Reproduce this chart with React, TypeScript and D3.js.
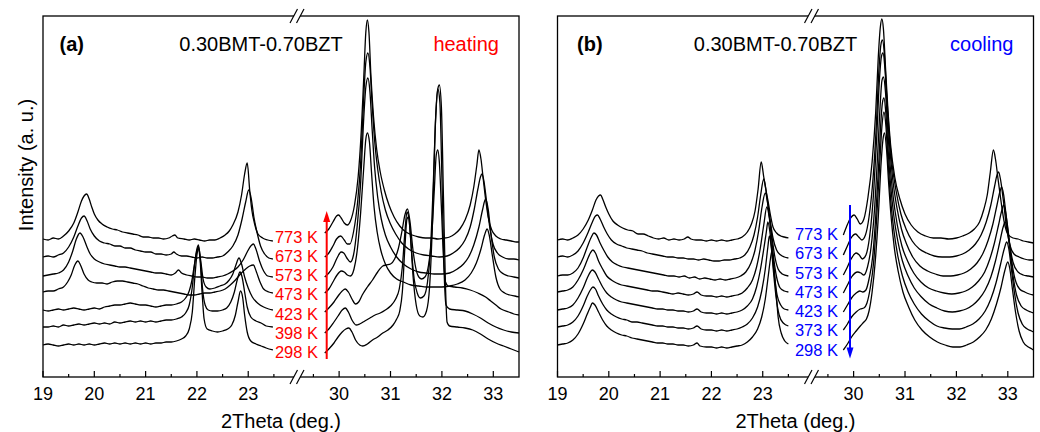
import React, { useEffect, useRef } from "react";
import * as d3 from "d3";

type Pt = [number, number];

// heating (a), window 19-23.5 deg
const h773L: Pt[] = [[19.0,138],[19.1,137],[19.2,139],[19.3,138],[19.4,141],[19.5,146],[19.6,154],[19.68,165],[19.75,176],[19.8,181],[19.85,183],[19.9,178],[19.95,170],[20.0,163],[20.07,157],[20.15,153],[20.25,150],[20.35,148],[20.45,147],[20.55,145],[20.65,144],[20.75,143],[20.85,142],[20.95,140],[21.05,140],[21.15,139],[21.25,139],[21.35,138],[21.45,139],[21.52,141],[21.57,142],[21.63,139],[21.75,138],[21.85,137],[21.95,138],[22.05,137],[22.15,136],[22.25,137],[22.35,137],[22.45,139],[22.55,142],[22.63,146],[22.7,152],[22.8,165],[22.87,182],[22.93,203],[22.98,214],[23.03,186],[23.07,167],[23.12,154],[23.19,143],[23.28,139],[23.38,137],[23.48,136]];
const h673L: Pt[] = [[19.0,120],[19.1,121],[19.2,120],[19.3,122],[19.4,124],[19.5,130],[19.6,140],[19.68,151],[19.75,159],[19.8,161],[19.86,156],[19.92,148],[20.0,141],[20.1,136],[20.2,134],[20.3,133],[20.4,131],[20.5,131],[20.6,129],[20.7,129],[20.8,127],[20.9,126],[21.0,125],[21.1,125],[21.2,123],[21.3,123],[21.4,122],[21.5,123],[21.55,125],[21.6,123],[21.7,121],[21.8,121],[21.9,120],[22.0,119],[22.1,120],[22.2,119],[22.3,119],[22.4,120],[22.5,121],[22.6,125],[22.7,131],[22.8,142],[22.88,158],[22.95,175],[23.01,187],[23.06,178],[23.11,160],[23.17,145],[23.24,131],[23.32,123],[23.4,119],[23.48,118]];
const h573L: Pt[] = [[19.0,101],[19.1,102],[19.2,103],[19.3,104],[19.4,107],[19.5,115],[19.58,126],[19.65,138],[19.72,144],[19.78,140],[19.85,131],[19.92,123],[20.0,118],[20.1,115],[20.2,113],[20.3,112],[20.4,111],[20.5,110],[20.6,110],[20.7,109],[20.8,108],[20.9,107],[21.0,106],[21.1,105],[21.2,104],[21.3,104],[21.4,103],[21.5,102],[21.58,104],[21.64,107],[21.7,104],[21.8,102],[21.9,101],[22.0,100],[22.1,100],[22.2,99],[22.3,99],[22.4,100],[22.5,101],[22.6,103],[22.7,106],[22.8,110],[22.9,117],[22.98,125],[23.05,131],[23.1,133],[23.15,128],[23.22,116],[23.3,106],[23.38,101],[23.48,100]];
const h473L: Pt[] = [[19.0,85],[19.1,86],[19.2,86],[19.3,88],[19.4,90],[19.48,95],[19.55,102],[19.62,112],[19.68,116],[19.73,112],[19.8,103],[19.88,97],[19.95,95],[20.05,94],[20.15,94],[20.25,93],[20.35,95],[20.45,96],[20.55,96],[20.65,95],[20.75,94],[20.85,93],[20.95,91],[21.05,89],[21.15,88],[21.25,87],[21.35,87],[21.45,86],[21.55,85],[21.65,84],[21.75,83],[21.85,82],[21.95,82],[22.05,83],[22.15,84],[22.25,84],[22.35,85],[22.45,86],[22.55,88],[22.65,92],[22.75,97],[22.85,103],[22.95,108],[23.03,111],[23.1,112],[23.16,105],[23.23,95],[23.3,88],[23.4,85],[23.48,84]];
const h423L: Pt[] = [[19.0,67],[19.1,66],[19.2,67],[19.3,68],[19.4,67],[19.5,68],[19.6,69],[19.7,68],[19.8,67],[19.9,68],[20.0,69],[20.1,68],[20.2,70],[20.3,71],[20.4,72],[20.5,72],[20.6,73],[20.7,74],[20.8,73],[20.9,72],[21.0,72],[21.1,71],[21.2,70],[21.3,71],[21.4,72],[21.5,72],[21.6,73],[21.7,75],[21.78,79],[21.85,86],[21.9,96],[21.95,112],[22.0,126],[22.03,130],[22.07,118],[22.12,98],[22.18,90],[22.25,88],[22.35,89],[22.45,91],[22.55,93],[22.63,97],[22.7,103],[22.76,112],[22.82,119],[22.87,113],[22.93,100],[23.0,89],[23.08,80],[23.18,74],[23.3,70],[23.4,68],[23.48,67]];
const h398L: Pt[] = [[19.0,50],[19.1,50],[19.2,51],[19.3,50],[19.4,52],[19.5,51],[19.6,52],[19.7,53],[19.8,52],[19.9,53],[20.0,54],[20.1,53],[20.2,54],[20.3,53],[20.4,55],[20.5,54],[20.6,55],[20.7,56],[20.8,55],[20.9,56],[21.0,55],[21.1,56],[21.2,55],[21.3,56],[21.4,57],[21.5,57],[21.6,58],[21.7,60],[21.78,64],[21.85,72],[21.91,90],[21.96,115],[22.0,128],[22.03,132],[22.07,115],[22.11,88],[22.16,72],[22.22,67],[22.3,66],[22.4,66],[22.5,67],[22.58,69],[22.66,75],[22.73,85],[22.79,98],[22.84,105],[22.88,100],[22.93,85],[22.98,70],[23.05,60],[23.15,56],[23.25,54],[23.35,51],[23.48,50]];
const h298L: Pt[] = [[19.0,32],[19.1,33],[19.2,32],[19.3,31],[19.4,32],[19.5,33],[19.6,32],[19.7,33],[19.8,32],[19.9,33],[20.0,32],[20.1,33],[20.2,34],[20.3,33],[20.4,34],[20.5,33],[20.6,34],[20.7,33],[20.8,34],[20.9,33],[21.0,34],[21.1,33],[21.2,34],[21.3,34],[21.4,35],[21.5,35],[21.6,36],[21.7,38],[21.78,41],[21.85,48],[21.91,65],[21.96,100],[22.0,122],[22.03,128],[22.06,118],[22.1,85],[22.14,58],[22.2,48],[22.3,46],[22.4,45],[22.5,46],[22.6,48],[22.68,52],[22.75,62],[22.8,75],[22.85,86],[22.89,80],[22.93,62],[22.98,45],[23.05,36],[23.15,33],[23.25,31],[23.35,29],[23.48,27]];

// heating (a), window 29.7-33.5 deg
const h773R: Pt[] = [[29.72,144],[29.8,148],[29.88,155],[29.95,161],[29.99,162],[30.04,159],[30.1,154],[30.16,152],[30.22,156],[30.3,172],[30.37,200],[30.43,245],[30.48,300],[30.52,345],[30.55,357],[30.58,345],[30.62,300],[30.67,260],[30.73,228],[30.8,205],[30.88,187],[30.97,172],[31.07,160],[31.18,151],[31.3,145],[31.42,142],[31.55,140],[31.68,139],[31.8,139],[31.92,138],[32.05,139],[32.15,140],[32.25,143],[32.35,148],[32.45,157],[32.55,172],[32.62,190],[32.68,212],[32.72,227],[32.76,218],[32.8,200],[32.85,178],[32.9,160],[32.97,147],[33.05,141],[33.15,138],[33.25,137],[33.35,136],[33.45,135],[33.5,135]];
const h673R: Pt[] = [[29.72,120],[29.8,124],[29.88,131],[29.95,138],[30.03,141],[30.1,137],[30.16,133],[30.21,133],[30.28,145],[30.36,175],[30.42,215],[30.47,270],[30.52,315],[30.56,324],[30.6,310],[30.64,275],[30.69,237],[30.75,208],[30.82,185],[30.9,167],[31.0,153],[31.1,143],[31.22,134],[31.35,128],[31.5,124],[31.65,122],[31.8,121],[31.95,120],[32.1,121],[32.22,124],[32.34,129],[32.45,137],[32.55,150],[32.63,168],[32.7,188],[32.75,200],[32.78,203],[32.82,195],[32.87,175],[32.93,150],[33.0,132],[33.08,124],[33.18,120],[33.3,118],[33.4,118],[33.5,117]];
const h573R: Pt[] = [[29.72,100],[29.8,104],[29.88,110],[29.96,119],[30.04,125],[30.09,124],[30.15,119],[30.22,115],[30.28,122],[30.35,150],[30.42,195],[30.47,250],[30.52,290],[30.56,299],[30.6,285],[30.64,250],[30.69,210],[30.75,180],[30.82,158],[30.9,142],[31.0,130],[31.12,120],[31.25,113],[31.4,108],[31.55,105],[31.7,104],[31.85,103],[32.0,103],[32.15,104],[32.3,108],[32.42,113],[32.52,120],[32.62,132],[32.72,150],[32.79,167],[32.85,178],[32.9,168],[32.95,145],[33.02,120],[33.1,108],[33.2,103],[33.3,101],[33.4,100],[33.5,99]];
const h473R: Pt[] = [[29.72,84],[29.8,88],[29.88,95],[29.96,102],[30.04,106],[30.1,105],[30.16,102],[30.22,101],[30.29,108],[30.36,130],[30.42,165],[30.48,210],[30.52,238],[30.55,244],[30.59,235],[30.63,205],[30.68,170],[30.74,145],[30.81,127],[30.9,113],[31.0,104],[31.12,98],[31.25,95],[31.4,92],[31.55,91],[31.7,90],[31.85,90],[32.0,90],[32.15,91],[32.3,93],[32.45,97],[32.57,104],[32.67,114],[32.76,128],[32.83,142],[32.88,148],[32.92,142],[32.98,122],[33.05,100],[33.13,88],[33.22,84],[33.32,82],[33.42,81],[33.5,80]];
const h423R: Pt[] = [[29.72,65],[29.8,69],[29.9,75],[29.98,81],[30.06,86],[30.12,88],[30.18,85],[30.25,78],[30.32,73],[30.38,75],[30.45,82],[30.55,90],[30.65,97],[30.75,105],[30.85,111],[30.92,112],[31.0,113],[31.08,118],[31.15,128],[31.22,145],[31.28,162],[31.33,168],[31.38,155],[31.43,130],[31.48,112],[31.53,102],[31.6,98],[31.67,100],[31.74,112],[31.8,140],[31.85,185],[31.89,222],[31.92,227],[31.95,215],[31.99,170],[32.03,120],[32.07,95],[32.12,91],[32.25,90],[32.4,89],[32.55,87],[32.7,84],[32.85,80],[32.95,76],[33.05,72],[33.15,68],[33.3,65],[33.4,63],[33.5,62]];
const h398R: Pt[] = [[29.72,44],[29.8,48],[29.9,55],[29.98,61],[30.06,67],[30.12,69],[30.18,65],[30.25,57],[30.33,52],[30.4,53],[30.5,56],[30.6,59],[30.7,62],[30.8,64],[30.9,67],[31.0,71],[31.1,78],[31.17,88],[31.23,110],[31.28,145],[31.32,165],[31.36,158],[31.41,125],[31.46,98],[31.52,84],[31.58,79],[31.65,81],[31.72,95],[31.78,130],[31.83,190],[31.88,260],[31.92,288],[31.96,275],[32.0,200],[32.04,110],[32.08,72],[32.15,68],[32.3,67],[32.45,66],[32.6,63],[32.75,59],[32.9,54],[33.05,50],[33.2,47],[33.35,45],[33.5,44]];
const h298R: Pt[] = [[29.72,24],[29.8,28],[29.9,34],[29.98,40],[30.06,45],[30.13,48],[30.19,49],[30.25,45],[30.32,37],[30.4,32],[30.46,31],[30.55,33],[30.65,37],[30.75,40],[30.85,44],[30.95,47],[31.05,52],[31.12,58],[31.18,66],[31.23,85],[31.28,130],[31.32,158],[31.35,160],[31.39,140],[31.44,100],[31.5,72],[31.57,61],[31.63,60],[31.7,66],[31.76,90],[31.82,160],[31.87,250],[31.92,288],[31.95,292],[31.99,270],[32.03,180],[32.07,90],[32.1,55],[32.15,51],[32.3,50],[32.45,49],[32.6,47],[32.75,43],[32.9,38],[33.05,34],[33.2,31],[33.35,28],[33.5,25]];

// cooling (b), window 19-23.5 deg
const c773L: Pt[] = [[19.0,137],[19.1,138],[19.2,137],[19.3,139],[19.4,142],[19.5,148],[19.6,157],[19.68,167],[19.75,177],[19.8,181],[19.84,182],[19.88,178],[19.94,170],[20.0,163],[20.08,156],[20.17,152],[20.27,149],[20.37,147],[20.47,146],[20.57,143],[20.67,143],[20.77,141],[20.87,139],[20.97,138],[21.07,139],[21.17,137],[21.27,138],[21.37,137],[21.47,138],[21.54,140],[21.6,138],[21.7,137],[21.8,137],[21.9,136],[22.0,137],[22.1,136],[22.2,137],[22.3,136],[22.4,137],[22.5,138],[22.6,140],[22.7,145],[22.78,153],[22.85,166],[22.91,188],[22.97,215],[23.02,200],[23.07,185],[23.1,177],[23.15,162],[23.2,150],[23.27,144],[23.35,141],[23.42,140],[23.5,139]];
const c673L: Pt[] = [[19.0,120],[19.1,121],[19.2,120],[19.3,122],[19.4,126],[19.5,134],[19.6,145],[19.68,155],[19.74,161],[19.78,162],[19.83,158],[19.9,150],[19.97,143],[20.05,137],[20.15,133],[20.25,131],[20.35,129],[20.45,128],[20.55,127],[20.65,126],[20.75,124],[20.85,123],[20.95,122],[21.05,121],[21.15,120],[21.25,120],[21.35,119],[21.45,119],[21.55,118],[21.65,118],[21.75,117],[21.85,118],[21.95,117],[22.05,116],[22.15,116],[22.25,117],[22.35,117],[22.45,118],[22.55,119],[22.65,122],[22.75,130],[22.83,142],[22.9,160],[22.96,182],[23.02,198],[23.06,188],[23.1,172],[23.15,155],[23.2,139],[23.27,127],[23.35,122],[23.42,120],[23.5,119]];
const c573L: Pt[] = [[19.0,101],[19.1,102],[19.2,102],[19.3,104],[19.4,109],[19.5,119],[19.58,130],[19.66,140],[19.71,144],[19.76,142],[19.83,134],[19.9,127],[19.98,120],[20.07,115],[20.17,112],[20.27,110],[20.37,109],[20.47,108],[20.57,107],[20.67,106],[20.77,105],[20.87,104],[20.97,103],[21.07,102],[21.17,101],[21.27,101],[21.37,100],[21.47,101],[21.57,99],[21.67,100],[21.77,98],[21.87,99],[21.97,98],[22.07,97],[22.17,98],[22.27,97],[22.37,98],[22.47,99],[22.57,101],[22.67,105],[22.77,114],[22.85,127],[22.92,146],[22.98,168],[23.05,184],[23.09,176],[23.13,160],[23.18,140],[23.23,122],[23.3,108],[23.38,103],[23.5,101]];
const c473L: Pt[] = [[19.0,85],[19.1,86],[19.2,87],[19.3,90],[19.4,97],[19.5,107],[19.58,117],[19.64,124],[19.69,127],[19.74,124],[19.8,116],[19.88,108],[19.96,101],[20.05,97],[20.15,94],[20.25,92],[20.35,91],[20.45,90],[20.55,89],[20.65,88],[20.75,87],[20.85,86],[20.95,86],[21.05,85],[21.15,84],[21.25,83],[21.35,84],[21.45,83],[21.55,82],[21.65,83],[21.72,85],[21.8,82],[21.9,81],[22.0,81],[22.1,80],[22.2,81],[22.3,80],[22.4,81],[22.5,82],[22.6,84],[22.7,89],[22.8,97],[22.88,110],[22.95,128],[23.02,152],[23.08,170],[23.12,162],[23.16,145],[23.21,120],[23.27,100],[23.34,89],[23.42,86],[23.5,85]];
const c423L: Pt[] = [[19.0,67],[19.1,68],[19.2,69],[19.3,72],[19.4,79],[19.5,89],[19.58,99],[19.64,105],[19.68,107],[19.73,105],[19.8,98],[19.88,90],[19.96,84],[20.05,80],[20.15,77],[20.25,75],[20.35,74],[20.45,73],[20.55,72],[20.65,71],[20.75,70],[20.85,69],[20.95,68],[21.05,68],[21.15,67],[21.25,67],[21.35,66],[21.45,66],[21.55,65],[21.65,66],[21.72,68],[21.8,65],[21.9,64],[22.0,64],[22.1,63],[22.2,64],[22.3,63],[22.4,64],[22.5,65],[22.6,67],[22.7,71],[22.8,78],[22.88,90],[22.95,106],[23.02,128],[23.07,145],[23.1,155],[23.14,145],[23.18,125],[23.23,100],[23.28,82],[23.35,72],[23.42,68],[23.5,67]];
const c373L: Pt[] = [[19.0,50],[19.1,51],[19.2,52],[19.3,55],[19.4,61],[19.5,71],[19.58,81],[19.64,87],[19.69,90],[19.74,88],[19.8,81],[19.88,73],[19.96,67],[20.05,63],[20.15,60],[20.25,58],[20.35,57],[20.45,55],[20.55,55],[20.65,54],[20.75,53],[20.85,52],[20.95,51],[21.05,51],[21.15,50],[21.25,50],[21.35,49],[21.45,49],[21.55,48],[21.65,49],[21.72,51],[21.8,48],[21.9,47],[22.0,47],[22.1,46],[22.2,47],[22.3,46],[22.4,47],[22.5,48],[22.6,50],[22.7,53],[22.8,59],[22.9,70],[22.98,86],[23.05,108],[23.1,130],[23.13,141],[23.17,128],[23.21,105],[23.26,80],[23.32,62],[23.4,54],[23.5,51]];
const c298L: Pt[] = [[19.0,32],[19.1,33],[19.2,34],[19.3,37],[19.4,43],[19.5,53],[19.58,63],[19.64,70],[19.68,74],[19.73,72],[19.8,65],[19.88,57],[19.96,51],[20.05,47],[20.15,44],[20.25,42],[20.35,41],[20.45,39],[20.55,38],[20.65,37],[20.75,36],[20.85,35],[20.95,34],[21.05,34],[21.15,33],[21.25,33],[21.35,32],[21.45,32],[21.55,31],[21.65,32],[21.72,34],[21.78,31],[21.9,30],[22.0,30],[22.1,29],[22.2,30],[22.3,29],[22.4,30],[22.5,31],[22.6,32],[22.7,35],[22.8,40],[22.9,48],[22.98,60],[23.05,78],[23.11,102],[23.15,118],[23.18,126],[23.22,110],[23.26,85],[23.3,60],[23.36,44],[23.43,36],[23.5,33]];

// cooling (b), window 29.8-33.5 deg
const c773R: Pt[] = [[29.8,142],[29.86,150],[29.93,158],[30.01,162],[30.07,158],[30.13,153],[30.2,158],[30.28,180],[30.36,215],[30.43,265],[30.48,320],[30.52,350],[30.55,358],[30.58,348],[30.62,310],[30.67,265],[30.72,232],[30.8,200],[30.9,178],[31.0,163],[31.12,152],[31.25,145],[31.4,141],[31.55,139],[31.7,139],[31.85,138],[32.0,139],[32.12,141],[32.25,144],[32.35,148],[32.45,155],[32.53,167],[32.6,182],[32.66,205],[32.72,227],[32.76,218],[32.81,198],[32.87,175],[32.93,155],[33.0,143],[33.1,139],[33.2,138],[33.3,136],[33.4,135],[33.5,134]];
const c673R: Pt[] = [[29.8,122],[29.87,130],[29.95,139],[30.04,143],[30.1,140],[30.16,137],[30.23,142],[30.3,160],[30.38,200],[30.44,250],[30.49,305],[30.53,332],[30.56,337],[30.6,322],[30.64,285],[30.69,245],[30.75,212],[30.83,185],[30.92,163],[31.02,148],[31.14,136],[31.28,128],[31.42,124],[31.57,121],[31.72,120],[31.87,120],[32.0,121],[32.12,123],[32.25,127],[32.37,133],[32.48,142],[32.58,155],[32.67,172],[32.74,190],[32.79,202],[32.82,205],[32.86,197],[32.91,178],[32.97,152],[33.04,132],[33.12,123],[33.22,120],[33.32,118],[33.42,117],[33.5,117]];
const c573R: Pt[] = [[29.8,102],[29.87,109],[29.95,118],[30.05,124],[30.11,122],[30.17,118],[30.24,122],[30.31,140],[30.39,185],[30.45,240],[30.5,295],[30.54,320],[30.57,324],[30.61,308],[30.65,272],[30.7,232],[30.76,198],[30.84,170],[30.93,148],[31.03,133],[31.15,120],[31.29,111],[31.44,106],[31.59,103],[31.74,101],[31.89,101],[32.02,102],[32.15,104],[32.28,108],[32.4,114],[32.52,124],[32.62,137],[32.71,153],[32.79,172],[32.85,186],[32.88,190],[32.92,182],[32.97,160],[33.03,135],[33.1,115],[33.2,105],[33.3,102],[33.4,101],[33.5,100]];
const c473R: Pt[] = [[29.8,84],[29.88,92],[29.96,100],[30.08,105],[30.14,104],[30.2,102],[30.27,110],[30.34,130],[30.41,170],[30.47,225],[30.52,275],[30.55,296],[30.58,300],[30.62,285],[30.66,250],[30.71,212],[30.77,180],[30.85,152],[30.94,131],[31.05,116],[31.17,104],[31.31,95],[31.46,89],[31.61,86],[31.76,84],[31.91,83],[32.05,84],[32.18,86],[32.31,90],[32.43,96],[32.55,105],[32.65,118],[32.74,134],[32.82,152],[32.88,166],[32.92,172],[32.96,164],[33.01,145],[33.07,118],[33.14,98],[33.23,88],[33.33,85],[33.42,83],[33.5,82]];
const c423R: Pt[] = [[29.8,65],[29.88,72],[29.96,79],[30.05,84],[30.12,86],[30.18,85],[30.24,87],[30.3,98],[30.37,120],[30.43,160],[30.49,215],[30.53,255],[30.56,274],[30.59,279],[30.63,262],[30.67,228],[30.72,192],[30.78,162],[30.86,136],[30.95,116],[31.06,101],[31.18,89],[31.32,80],[31.47,73],[31.62,69],[31.77,66],[31.92,65],[32.06,66],[32.19,68],[32.32,72],[32.44,78],[32.56,87],[32.67,100],[32.76,116],[32.84,134],[32.91,150],[32.95,155],[32.99,147],[33.04,128],[33.1,102],[33.17,82],[33.26,71],[33.36,67],[33.45,65],[33.5,64]];
const c373R: Pt[] = [[29.8,47],[29.88,53],[29.96,60],[30.05,65],[30.13,68],[30.2,69],[30.26,74],[30.32,88],[30.39,115],[30.45,160],[30.51,215],[30.55,250],[30.59,265],[30.63,250],[30.67,215],[30.72,178],[30.78,148],[30.86,121],[30.95,101],[31.06,85],[31.18,73],[31.32,63],[31.47,56],[31.62,51],[31.77,49],[31.92,48],[32.06,48],[32.19,50],[32.32,53],[32.44,58],[32.56,66],[32.67,78],[32.77,94],[32.86,113],[32.93,128],[32.98,135],[33.02,128],[33.07,108],[33.13,84],[33.2,64],[33.28,53],[33.38,48],[33.46,46],[33.5,45]];
const c298R: Pt[] = [[29.8,27],[29.88,33],[29.96,40],[30.05,46],[30.13,51],[30.2,55],[30.25,58],[30.3,66],[30.36,85],[30.42,115],[30.48,160],[30.53,210],[30.57,237],[30.6,244],[30.64,228],[30.68,195],[30.73,160],[30.79,130],[30.87,105],[30.96,85],[31.07,70],[31.19,57],[31.33,47],[31.48,40],[31.63,35],[31.78,32],[31.93,30],[32.07,30],[32.2,32],[32.33,35],[32.45,40],[32.57,47],[32.68,58],[32.78,73],[32.87,90],[32.94,106],[33.0,115],[33.04,108],[33.09,88],[33.15,65],[33.22,46],[33.3,35],[33.4,30],[33.47,28],[33.5,27]];

const heatingTemps = ["773 K", "673 K", "573 K", "473 K", "423 K", "398 K", "298 K"];
const coolingTemps = ["773 K", "673 K", "573 K", "473 K", "423 K", "373 K", "298 K"];
const heatingTraces = [h773L, h673L, h573L, h473L, h423L, h398L, h298L, h773R, h673R, h573R, h473R, h423R, h398R, h298R];
const coolingTraces = [c773L, c673L, c573L, c473L, c423L, c373L, c298L, c773R, c673R, c573R, c473R, c423R, c373R, c298R];

const majorTicks = [19, 20, 21, 22, 23, 30, 31, 32, 33];
const minorTicks = [19.5, 20.5, 21.5, 22.5, 23.5, 29.5, 30.5, 31.5, 32.5];

const FONT = "'Liberation Sans', Arial, Helvetica, sans-serif";

const App = () => {
  const svgRef = useRef<SVGSVGElement>(null);

  useEffect(() => {
    const width = 476;
    const height = 361;
    const top = 16;

    const svg = d3.select(svgRef.current);
    svg.selectAll("*").remove();

    // broken axis: two linear pieces
    const seg1 = d3.scaleLinear().domain([19, 23.97]).range([0, 255]);
    const seg2 = d3.scaleLinear().domain([29.2, 33.5]).range([255, width]);
    const x = (v: number) => (v < 26 ? seg1(v) : seg2(v));
    const breakX = 255;
    const y = d3.scaleLinear().domain([0, 361]).range([height, 0]);

    const line = d3
      .line<Pt>()
      .x((d) => x(d[0]))
      .y((d) => y(d[1]))
      .curve(d3.curveMonotoneX);

    const panels = [
      { left: 43, tag: "(a)", tagX: 16.5, mode: "heating", color: "#ff0000", temps: heatingTemps, traces: heatingTraces, labelX: 275, lab0: 242.7, up: true, arrowX: 283.7, arrowTop: 195, arrowBot: 343 },
      { left: 557.5, tag: "(b)", tagX: 19.5, mode: "cooling", color: "#0000ff", temps: coolingTemps, traces: coolingTraces, labelX: 280.5, lab0: 240, up: false, arrowX: 292.5, arrowTop: 189, arrowBot: 342.5 },
    ];

    panels.forEach((p) => {
      const g = svg.append("g").attr("transform", `translate(${p.left},${top})`);

      g.selectAll(".trace")
        .data(p.traces)
        .enter()
        .append("path")
        .attr("d", (d) => line(d))
        .attr("fill", "none")
        .attr("stroke", "#000")
        .attr("stroke-width", 1.3)
        .attr("stroke-linejoin", "round");

      g.append("rect")
        .attr("width", width)
        .attr("height", height)
        .attr("fill", "none")
        .attr("stroke", "#000")
        .attr("stroke-width", 1.3);

      // ticks, pointing inward
      g.selectAll(".major")
        .data(majorTicks)
        .enter()
        .append("line")
        .attr("x1", (d) => x(d))
        .attr("x2", (d) => x(d))
        .attr("y1", height)
        .attr("y2", height - 6)
        .attr("stroke", "#000")
        .attr("stroke-width", 1.2);

      g.selectAll(".minor")
        .data(minorTicks)
        .enter()
        .append("line")
        .attr("x1", (d) => x(d))
        .attr("x2", (d) => x(d))
        .attr("y1", height)
        .attr("y2", height - 3)
        .attr("stroke", "#000")
        .attr("stroke-width", 1.2);

      g.selectAll(".ticklabel")
        .data(majorTicks)
        .enter()
        .append("text")
        .attr("x", (d) => x(d))
        .attr("y", 384)
        .attr("text-anchor", "middle")
        .style("font-family", FONT)
        .style("font-size", "18px")
        .text((d) => d);

      // break marks on top and bottom axis
      [0, height].forEach((yy) => {
        g.append("path")
          .attr("d", `M${breakX - 8},${yy + 7}L${breakX - 0.5},${yy - 7}L${breakX + 6},${yy - 7}L${breakX - 1.5},${yy + 7}Z`)
          .attr("fill", "#fff");
        [[-8, -0.5], [-1.5, 6]].forEach(([a, b]) => {
          g.append("line")
            .attr("x1", breakX + a)
            .attr("y1", yy + 7)
            .attr("x2", breakX + b)
            .attr("y2", yy - 7)
            .attr("stroke", "#000")
            .attr("stroke-width", 1.2);
        });
      });

      g.append("text")
        .attr("x", width / 2)
        .attr("y", 411.5)
        .attr("text-anchor", "middle")
        .style("font-family", FONT)
        .style("font-size", "20px")
        .text("2Theta (deg.)");

      g.append("text")
        .attr("x", p.tagX)
        .attr("y", 35)
        .style("font-family", FONT)
        .style("font-size", "20px")
        .style("font-weight", "bold")
        .text(p.tag);

      g.append("text")
        .attr("x", 218)
        .attr("y", 35)
        .attr("text-anchor", "middle")
        .style("font-family", FONT)
        .style("font-size", "20px")
        .text("0.30BMT-0.70BZT");

      g.append("text")
        .attr("x", 456)
        .attr("y", 35)
        .attr("text-anchor", "end")
        .style("font-family", FONT)
        .style("font-size", "20px")
        .style("fill", p.color)
        .text(p.mode);

      g.selectAll(".temp")
        .data(p.temps)
        .enter()
        .append("text")
        .attr("x", p.labelX)
        .attr("y", (d, i) => p.lab0 - top + i * 19.25)
        .attr("text-anchor", "end")
        .style("font-family", FONT)
        .style("font-size", "16.5px")
        .style("fill", p.color)
        .text((d) => d);

      // temperature arrow
      const tipY = p.up ? p.arrowTop : p.arrowBot;
      const tailY = p.up ? p.arrowBot : p.arrowTop;
      const dir = p.up ? 1 : -1;
      g.append("line")
        .attr("x1", p.arrowX)
        .attr("x2", p.arrowX)
        .attr("y1", tailY)
        .attr("y2", tipY + dir * 6)
        .attr("stroke", p.color)
        .attr("stroke-width", 2);
      g.append("path")
        .attr("d", `M${p.arrowX},${tipY}L${p.arrowX - 3.5},${tipY + dir * 11}L${p.arrowX + 3.5},${tipY + dir * 11}Z`)
        .attr("fill", p.color);
    });

    svg
      .append("text")
      .attr("transform", "translate(33,165) rotate(-90)")
      .attr("text-anchor", "middle")
      .style("font-family", FONT)
      .style("font-size", "20px")
      .text("Intensity (a. u.)");
  }, []);

  return (
    <svg
      ref={svgRef}
      width={1040}
      height={432}
      style={{ position: "absolute", left: 0, top: 0, background: "#fff" }}
    ></svg>
  );
};

export default App;
